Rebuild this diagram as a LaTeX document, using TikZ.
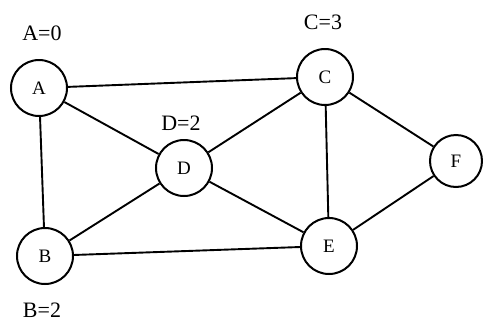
\documentclass[tikz,border=0pt]{standalone}
\usepackage{fontspec}
\setmainfont{Liberation Serif}
\begin{document}
\begin{tikzpicture}[x=1pt,y=-1pt,
  vertex/.style={draw,circle,line width=2pt,minimum size=56pt,inner sep=0pt,font=\fontsize{19}{22}\selectfont},
  lbl/.style={font=\fontsize{22}{25}\selectfont,inner sep=0pt},
  edge/.style={line width=1.9pt}]
\useasboundingbox (0,0) rectangle (483,322);
\node[vertex] (A) at (39,88) {A};
\node[vertex] (C) at (325,77) {C};
\node[vertex] (D) at (184,168) {D};
\node[vertex,minimum size=52pt] (F) at (456,161) {F};
\node[vertex] (B) at (45,256) {B};
\node[vertex] (E) at (329,246) {E};
\node[lbl] (la) at (42,33) {A=0};
\node[lbl] (lc) at (323,22) {C=3};
\node[lbl] (ld) at (181,123) {D=2};
\node[lbl] (lb) at (42,310) {B=2};
\draw[edge] (A) -- (C);
\draw[edge] (A) -- (D);
\draw[edge] (A) -- (B);
\draw[edge] (C) -- (D);
\draw[edge] (C) -- (E);
\draw[edge] (C) -- (F);
\draw[edge] (D) -- (B);
\draw[edge] (D) -- (E);
\draw[edge] (B) -- (E);
\draw[edge] (E) -- (F);
\end{tikzpicture}
\end{document}
